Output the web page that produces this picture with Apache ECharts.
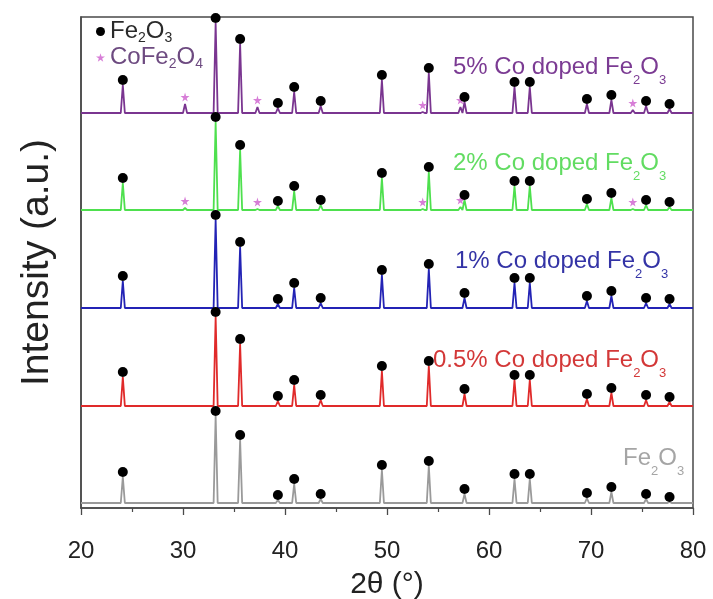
<!DOCTYPE html>
<html><head><meta charset="utf-8">
<script src="https://cdn.jsdelivr.net/npm/echarts@6/dist/echarts.min.js"></script>
<style>html,body{margin:0;padding:0;background:#fff}#c{width:713px;height:599px}</style>
</head><body><div id="c"></div>
<script>
// ---- data ----
const xRange = [20, 80];
const xTickStep = 10;
const patternKeys = ['Fe2O3', '0.5Co', '1Co', '2Co', '5Co'];
const patternLabels = ['{n|Fe}{s|2}{n|O}{s|3}', '{n|0.5% Co doped Fe}{s|2}{n|O}{s|3}', '{n|1% Co doped Fe}{s|2}{n|O}{s|3}', '{n|2% Co doped Fe}{s|2}{n|O}{s|3}', '{n|5% Co doped Fe}{s|2}{n|O}{s|3}'];
const baselineOffsets = [5, 102, 200, 298, 395];
const fePeakPositions = [24.1, 33.2, 35.6, 39.3, 40.9, 43.5, 49.5, 54.1, 57.6, 62.5, 64.0, 69.6, 72.0, 75.4, 77.7];
const fe_Fe2O3 = [26, 87, 63, 3, 19, 4, 33, 37, 9, 24, 24, 5, 11, 4, 1];
const fe_05Co  = [29, 89, 62, 5, 21, 6, 35, 40, 12, 26, 26, 7, 13, 6, 4];
const fe_1Co   = [27, 88, 61, 4, 20, 5, 33, 39, 10, 25, 25, 7, 12, 5, 4];
const fe_2Co   = [27, 88, 60, 4, 19, 5, 32, 38, 10, 24, 24, 6, 12, 5, 3];
const fe_5Co   = [28, 90, 69, 5, 21, 7, 33, 40, 11, 26, 26, 9, 13, 7, 4];
const coPeakPositions = [30.2, 37.3, 53.5, 57.2, 74.1];
const co_2Co = [2, 1, 1, 3, 1];
const co_5Co = [9, 6, 1, 6, 3];

const feByPattern = [fe_Fe2O3, fe_05Co, fe_1Co, fe_2Co, fe_5Co];
const coByPattern = [null, null, null, co_2Co, co_5Co];

// ---- styles ----
const lineColors = ['#9a9a9a', '#e02a2a', '#2323b5', '#4ee04e', '#7a3590'];
const labelColors = ['#a5a5a5', '#d33838', '#3434a6', '#62dc62', '#7b3b93'];
const labelPos = [[623, 446], [433, 348], [455, 249], [453, 151], [453, 55]];
const FONT = 'Liberation Sans, Arial, sans-serif';
const starPath = 'path://M50,0 L61,35 L98,35 L68,57 L79,91 L50,70 L21,91 L32,57 L2,35 L39,35 Z';

function buildTrace(offset, fe, co) {
  const peaks = fePeakPositions.map((p, i) => [p, fe[i]]);
  if (co) coPeakPositions.forEach((p, i) => peaks.push([p, co[i]]));
  peaks.sort((a, b) => a[0] - b[0]);
  const pts = [[xRange[0], offset]];
  peaks.forEach(([p, h]) => { pts.push([p - 0.2, offset], [p, offset + h], [p + 0.2, offset]); });
  pts.push([xRange[1], offset]);
  return pts;
}

const series = [];
patternKeys.forEach((k, i) => {
  series.push({
    type: 'line', name: k, data: buildTrace(baselineOffsets[i], feByPattern[i], coByPattern[i]),
    showSymbol: false, silent: true, z: 2,
    lineStyle: { color: lineColors[i], width: 1.8 }, itemStyle: { color: lineColors[i] }
  });
});
const feMarks = [];
patternKeys.forEach((k, i) => fePeakPositions.forEach((p, j) => feMarks.push([p, baselineOffsets[i] + feByPattern[i][j]])));
const coMarks = [];
patternKeys.forEach((k, i) => { if (coByPattern[i]) coPeakPositions.forEach((p, j) => coMarks.push([p, baselineOffsets[i] + coByPattern[i][j]])); });
series.push({ type: 'scatter', name: 'Fe2O3', data: feMarks, symbol: 'circle', symbolSize: 10, symbolOffset: [0, -5], itemStyle: { color: '#000', opacity: 1 }, z: 5, silent: true });
series.push({ type: 'scatter', name: 'CoFe2O4', data: coMarks, symbol: starPath, symbolSize: 9, symbolOffset: [0, -7], itemStyle: { color: '#d77ed7', opacity: 1 }, z: 4, silent: true });

const subRich = {
  n: { fontSize: 24, lineHeight: 26, verticalAlign: 'top', fontFamily: FONT },
  s: { fontSize: 13, lineHeight: 15, padding: [19, 0, 0, 0], verticalAlign: 'top', fontFamily: FONT }
};

const graphic = patternKeys.map((k, i) => ({
  type: 'text', x: labelPos[i][0], y: labelPos[i][1], z: 10, silent: true,
  style: { text: patternLabels[i], fill: labelColors[i], fontSize: 24, fontFamily: FONT, verticalAlign: 'top', align: 'left', rich: subRich }
}));

const chart = echarts.init(document.getElementById('c'), null, { renderer: 'canvas' });
chart.setOption({
  animation: false,
  backgroundColor: '#fff',
  grid: { left: 81, right: 20, top: 17, bottom: 91, outerBoundsMode: 'none', containLabel: false, show: true, borderColor: '#4a4a4a', borderWidth: 1.5, backgroundColor: 'transparent' },
  legend: {
    left: 91, top: 14, orient: 'vertical', itemWidth: 9, itemHeight: 9, itemGap: 0,
    data: [
      { name: 'Fe2O3', icon: 'circle', itemStyle: { color: '#000', borderWidth: 0 }, textStyle: { color: '#2a2a2a' } },
      { name: 'CoFe2O4', icon: starPath, itemStyle: { color: '#d77ed7', borderWidth: 0 }, textStyle: { color: '#6d4a80' } }
    ],
    formatter: name => name === 'Fe2O3' ? '{n|Fe}{s|2}{n|O}{s|3}' : '{n|CoFe}{s|2}{n|O}{s|4}',
    textStyle: {
      fontFamily: FONT, fontSize: 24,
      rich: {
        n: { fontSize: 24, lineHeight: 25, verticalAlign: 'top', fontFamily: FONT },
        s: { fontSize: 14, lineHeight: 14, padding: [12, 0, 0, 0], verticalAlign: 'top', fontFamily: FONT }
      }
    }
  },
  xAxis: {
    type: 'value', min: xRange[0], max: xRange[1], interval: xTickStep,
    name: '2θ (°)', nameLocation: 'middle', nameGap: 62,
    nameTextStyle: { fontSize: 30, color: '#222', fontFamily: FONT },
    axisLine: { show: true, lineStyle: { color: '#4a4a4a', width: 1.5 } },
    axisTick: { show: true, inside: false, length: 7, lineStyle: { color: '#4a4a4a', width: 1.3 } },
    minorTick: { show: true, splitNumber: 2, length: 4, lineStyle: { color: '#4a4a4a', width: 1.2 } },
    splitLine: { show: false }, minorSplitLine: { show: false },
    axisLabel: { fontSize: 24, color: '#222', margin: 31, fontFamily: FONT }
  },
  yAxis: {
    type: 'value', min: 0, max: 491,
    name: 'Intensity (a.u.)', nameLocation: 'middle', nameGap: 24, nameRotate: 90,
    nameTextStyle: { fontSize: 39, color: '#222', fontFamily: FONT },
    axisLine: { show: true, lineStyle: { color: '#4a4a4a', width: 1.5 } },
    axisTick: { show: false }, axisLabel: { show: false }, splitLine: { show: false }
  },
  graphic: graphic,
  series: series
});
</script></body></html>
